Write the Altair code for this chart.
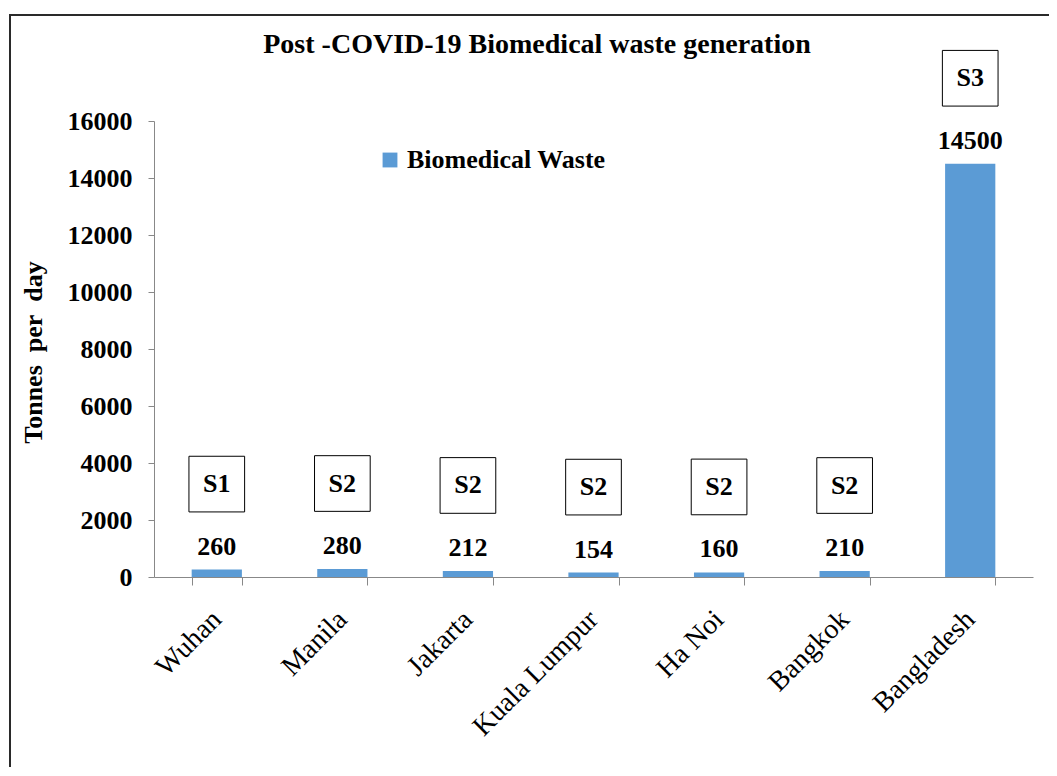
import altair as alt
import pandas as pd

cities = ["Wuhan", "Manila", "Jakarta", "Kuala Lumpur", "Ha Noi", "Bangkok", "Bangladesh"]
waste = [260, 280, 212, 154, 160, 210, 14500]
scenario = ["S1", "S2", "S2", "S2", "S2", "S2", "S3"]
title_text = "Post -COVID-19 Biomedical waste generation"

df = pd.DataFrame({"city": cities, "waste": waste, "scenario": scenario,
                   "series": ["Biomedical Waste"] * len(cities)})

FONT = "Liberation Serif"
BLUE = "#5B9BD5"

x_enc = alt.X("city:N", sort=cities, title=None,
              scale=alt.Scale(paddingInner=0.6, paddingOuter=0.3),
              axis=alt.Axis(labelAngle=-45, labelAlign="right", labelBaseline="middle",
                            labelPadding=30, labelFont=FONT, labelFontSize=28,
                            labelColor="black", tickBand="extent", tickSize=8,
                            labelLimit=300,
                            domainColor="#888888", tickColor="#888888"))

base = alt.Chart(df)

frame = alt.Chart(pd.DataFrame({"f": [1]})).mark_rect(
    fill=None, stroke="#2a2a2a", strokeWidth=2, clip=False).encode(
    x=alt.value(-144), x2=alt.value(1000), y=alt.value(-106), y2=alt.value(720))

title = alt.Chart(pd.DataFrame({"t": [title_text]})).mark_text(
    font=FONT, fontSize=28, fontWeight="bold", color="black",
    align="center", baseline="alphabetic", clip=False).encode(
    x=alt.value(383), y=alt.value(-68), text="t:N")

bars = base.mark_bar(color=BLUE).encode(
    x=x_enc,
    y=alt.Y("waste:Q", title="Tonnes\u00a0 per\u00a0 day",
            scale=alt.Scale(domain=[0, 16000]),
            axis=alt.Axis(values=list(range(0, 16001, 2000)), grid=False, format="d",
                          labelFont=FONT, labelFontSize=26, labelFontWeight="bold",
                          labelColor="black", labelPadding=16, tickSize=6,
                          domainColor="#888888", tickColor="#888888",
                          titleFont=FONT, titleFontSize=26, titleFontWeight="bold",
                          titleColor="black", titleX=-121, titleY=231,
                          titleAlign="center", titleBaseline="middle")),
    color=alt.Color("series:N", title=None,
                    scale=alt.Scale(range=[BLUE]),
                    legend=alt.Legend(orient="none", legendX=223, legendY=26,
                                      symbolType="square", symbolSize=220,
                                      symbolStrokeWidth=0, labelLimit=400,
                                      labelFont=FONT, labelFontSize=26,
                                      labelFontWeight="bold", labelColor="black")),
)

values = base.mark_text(font=FONT, fontSize=26, fontWeight="bold", color="black",
                        baseline="middle", dy=-23).encode(
    x=alt.X("city:N", sort=cities), y="waste:Q", text="waste:Q")

boxed = base.transform_calculate(box_y="datum.waste + 3000")

boxes = boxed.mark_point(shape="square", size=3100, filled=False, stroke="black",
                         strokeWidth=1, opacity=1, clip=False).encode(
    x=alt.X("city:N", sort=cities), y="box_y:Q")

box_text = boxed.mark_text(font=FONT, fontSize=26, fontWeight="bold", color="black",
                           baseline="middle", clip=False).encode(
    x=alt.X("city:N", sort=cities), y="box_y:Q", text="scenario:N")

chart = alt.layer(frame, title, bars, values, boxes, box_text).properties(
    width=879, height=456,
    autosize=alt.AutoSizeParams(type="none"),
    padding={"left": 146, "top": 113, "right": 16, "bottom": 190},
).configure_view(stroke=None)

chart.save("out.html", embed_options={"renderer": "svg", "actions": False})
